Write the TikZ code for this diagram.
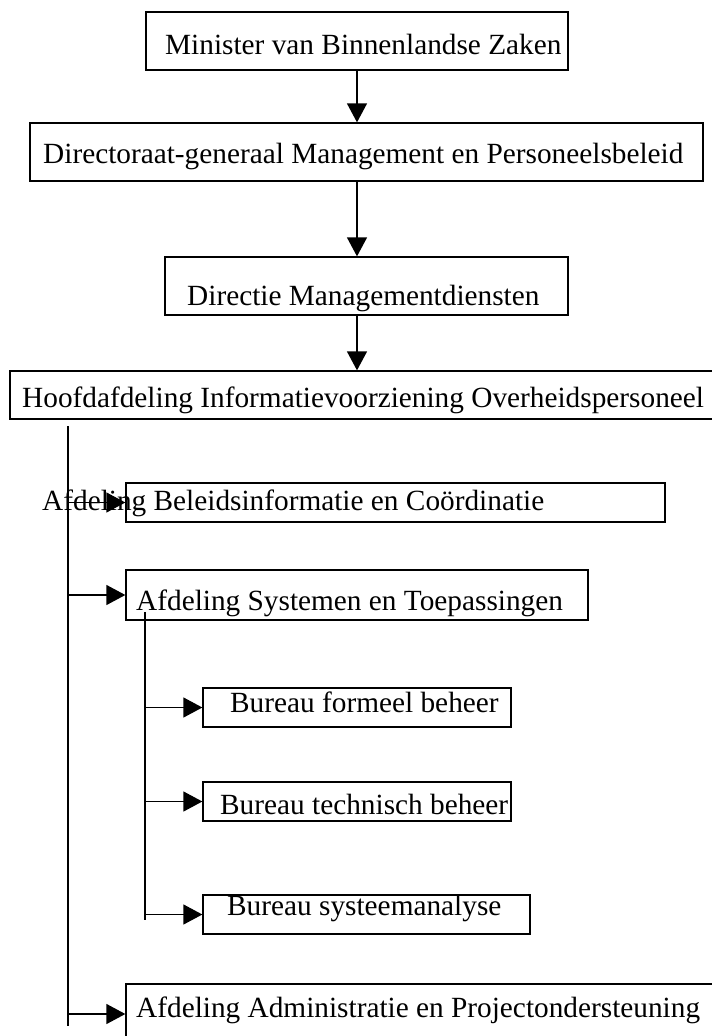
\documentclass[tikz,border=0pt]{standalone}
\usepackage{fontspec}
\setmainfont{Liberation Serif}
\usetikzlibrary{arrows.meta}
\tikzset{
	orgbox/.style={draw,rectangle,line width=1.3pt,inner sep=0pt},
	txt/.style={inner sep=0pt,anchor=base west,font=\fontsize{29.3pt}{35pt}\selectfont},
	arr/.style={line width=1.3pt,-{Triangle[length=19pt,width=20pt]}},
	ln/.style={line width=1.3pt}
}
\begin{document}
\begin{tikzpicture}[x=1pt,y=-1pt]
		\useasboundingbox (0,0) rectangle (712,1036);
		\draw (357,41) node (min)[orgbox,minimum width=422,minimum height=58]{};
		\draw (366.5,152) node (dgmp)[orgbox,minimum width=673,minimum height=58]{};
		\draw (366.5,286) node (dmd)[orgbox,minimum width=403,minimum height=58]{};
		\draw (370,395) node (hiop)[orgbox,minimum width=720,minimum height=48]{};
		\draw (395.5,502.5) node (abc)[orgbox,minimum width=539,minimum height=39]{};
		\draw (357,595) node (ast)[orgbox,minimum width=462,minimum height=50]{};
		\draw (357,707.5) node (bfb)[orgbox,minimum width=308,minimum height=39]{};
		\draw (357,801.5) node (btb)[orgbox,minimum width=308,minimum height=39]{};
		\draw (366.5,914.5) node (bsa)[orgbox,minimum width=327,minimum height=39]{};
		\draw (428,1014) node (aap)[orgbox,minimum width=604,minimum height=60]{};

		\draw (165,54) node (minT)[txt]{Minister van Binnenlandse Zaken};
		\draw (43,163) node (dgmpT)[txt]{Directoraat-generaal Management en Personeelsbeleid};
		\draw (187,305) node (dmdT)[txt]{Directie Managementdiensten};
		\draw (22,407) node (hiopT)[txt]{Hoofdafdeling Informatievoorziening Overheidspersoneel};
		\draw (42,510) node (abcT)[txt]{Afdeling Beleidsinformatie en Coördinatie};
		\draw (136,610) node (astT)[txt]{Afdeling Systemen en Toepassingen};
		\draw (230,712) node (bfbT)[txt]{Bureau formeel beheer};
		\draw (220,814) node (btbT)[txt]{Bureau technisch beheer};
		\draw (227,915) node (bsaT)[txt]{Bureau systeemanalyse};
		\draw (136,1017) node (aapT)[txt]{Afdeling Administratie en Projectondersteuning};

		\draw[arr] (min.south)--(min.south |- dgmp.north);
		\draw[arr] (min.south |- dgmp.south)--(min.south |- dmd.north);
		\draw[arr] (min.south |- dmd.south)--(min.south |- hiop.north);

		\coordinate (h1) at (68,426);
		\coordinate (h2) at (68,1026);
		\draw[ln] (h1)--(h2);
		\draw[arr] (abc.west -| h1)--(abc.west);
		\draw[arr] (ast.west -| h1)--(ast.west);
		\draw[arr] (aap.west -| h1)--(aap.west);

		\coordinate (s1) at (145,612);
		\coordinate (s2) at (145,920);
		\draw[ln] (s1)--(s2);
		\draw[arr] (bfb.west -| s1)--(bfb.west);
		\draw[arr] (btb.west -| s1)--(btb.west);
		\draw[arr] (bsa.west -| s1)--(bsa.west);
	\end{tikzpicture}
\end{document}
